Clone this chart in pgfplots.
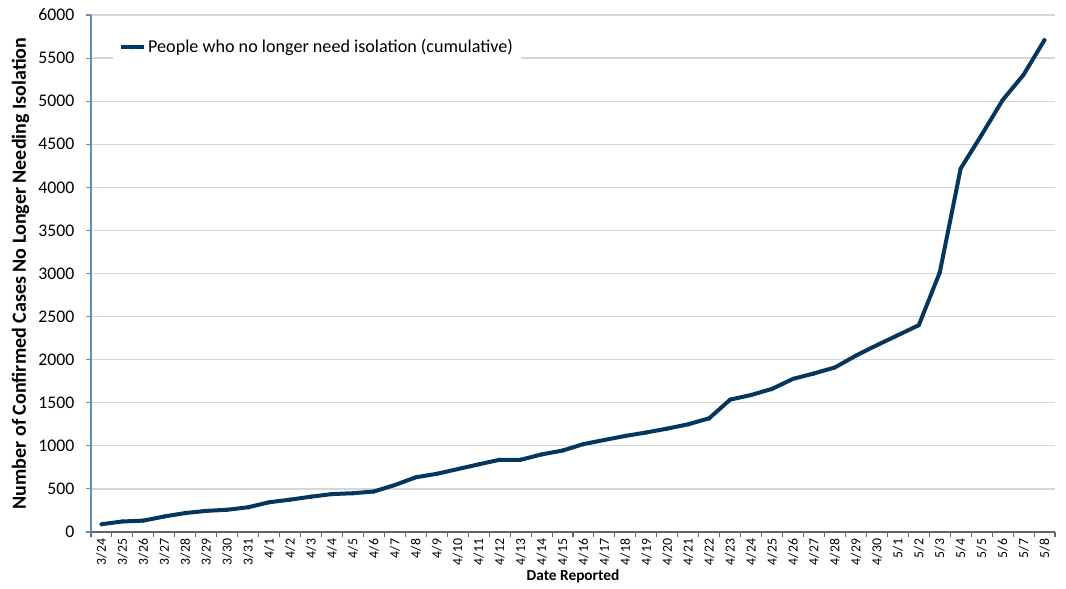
\documentclass[border=0pt]{standalone}
\usepackage{pgfplots}
\pgfplotsset{compat=1.18}
\usepackage{fontspec}
\setmainfont{Carlito}
\definecolor{navy}{RGB}{4,54,94}
\definecolor{gridc}{RGB}{214,214,214}
\definecolor{yax}{RGB}{100,140,180}
\begin{document}
\begin{tikzpicture}
\begin{axis}[
  scale only axis,
  width=723pt, height=387.75pt,
  xmin=-0.5, xmax=45.5,
  ymin=0, ymax=6000,
  ytick={0,500,...,6000},
  ymajorgrids, grid style={gridc, line width=0.9pt},
  axis x line*=bottom, axis y line*=left,
  x axis line style={draw=gray!80!black, line width=0.9pt, -},
  y axis line style={draw=yax, line width=0.9pt, -},
  y tick style={draw=yax, line width=0.8pt},
  tick align=outside,
  major tick length=4pt,
  xtick={0,...,45},
  major x tick style={draw=none},
  minor xtick={-0.5,0.5,...,45.5},
  minor x tick style={draw=gray!80!black, line width=0.8pt},
  minor tick length=4pt,
  xticklabels={3/24,3/25,3/26,3/27,3/28,3/29,3/30,3/31,4/1,4/2,4/3,4/4,4/5,4/6,4/7,4/8,4/9,4/10,4/11,4/12,4/13,4/14,4/15,4/16,4/17,4/18,4/19,4/20,4/21,4/22,4/23,4/24,4/25,4/26,4/27,4/28,4/29,4/30,5/1,5/2,5/3,5/4,5/5,5/6,5/7,5/8},
  xticklabel style={rotate=90, anchor=east, font=\fontsize{10.3}{11}\selectfont, inner sep=1pt},
  yticklabel style={font=\fontsize{13.3}{14}\selectfont, xshift=-5pt},
  /pgf/number format/assume math mode=true,
  /pgf/number format/1000 sep={},
  scaled y ticks=false,
  ylabel={\bfseries Number of Confirmed Cases No Longer Needing Isolation},
  ylabel style={font=\fontsize{15}{16}\selectfont, yshift=0pt},
  xlabel={\bfseries Date Reported},
  xlabel style={font=\fontsize{11.5}{12}\selectfont, yshift=1pt},
  legend style={at={(0.023,0.966)}, anchor=north west, draw=none, fill=white,
    font=\fontsize{13.6}{14}\selectfont, inner xsep=4pt, inner ysep=3pt},
  legend cell align=left,
  legend image post style={line width=3pt},
]
\addplot[navy, line width=3pt, mark=*, mark size=1.4pt, mark options={fill=navy, draw=navy, line width=0.5pt}] coordinates {
(0,90) (1,122) (2,132) (3,180) (4,220) (5,245) (6,258) (7,287)
(8,345) (9,375) (10,410) (11,440) (12,450) (13,470) (14,545) (15,635)
(16,675) (17,730) (18,785) (19,838) (20,838) (21,900) (22,945) (23,1020)
(24,1068) (25,1115) (26,1155) (27,1200) (28,1250) (29,1320) (30,1536) (31,1590)
(32,1661) (33,1777) (34,1840) (35,1910) (36,2047) (37,2168) (38,2284) (39,2400)
(40,3011) (41,4219) (42,4609) (43,5012) (44,5307) (45,5710)
};
\addlegendentry{People who no longer need isolation (cumulative)}
\end{axis}
\pgfresetboundingbox
\path (current axis.south west) ++(-68.25pt,-42.75pt) coordinate (bl);
\path (current axis.north east) ++(8.25pt,11.25pt) coordinate (tr);
\path[use as bounding box] (bl) rectangle (tr);
\end{tikzpicture}
\end{document}
